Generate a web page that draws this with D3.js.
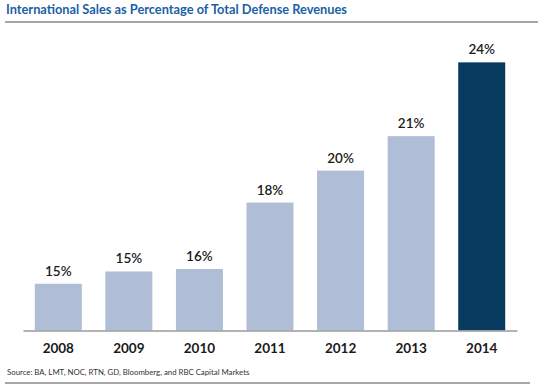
<!DOCTYPE html>
<html>
<head>
<meta charset="utf-8">
<script src="https://cdn.jsdelivr.net/npm/d3@7"></script>
<style>
  body { margin: 0; background: #fff; }
  svg { display: block; }
</style>
</head>
<body>
<svg id="chart" width="538" height="389"></svg>
<script>
// data
var years = ["2008", "2009", "2010", "2011", "2012", "2013", "2014"];
var shares = [14.9, 15.4, 15.5, 18.2, 19.5, 20.9, 23.9];
var labels = ["15%", "15%", "16%", "18%", "20%", "21%", "24%"];

var svg = d3.select("#chart");
var font = "Lato, 'Open Sans', sans-serif";

var baseY = 330.5;
var x = d3.scaleBand()
    .domain(years)
    .range([23, 517])
    .paddingInner(0.334)
    .paddingOuter(0.167);

var y = d3.scaleLinear()
    .domain([13, 25])
    .range([baseY, baseY - 12 * 24.6]);

// title + rule
svg.append("text")
    .attr("x", 6)
    .attr("y", 14)
    .attr("font-family", font)
    .attr("font-weight", "bold")
    .attr("font-size", 12.8)
    .attr("fill", "#1b5fa6")
    .text("International Sales as Percentage of Total Defense Revenues");

svg.append("line")
    .attr("x1", 5).attr("x2", 538)
    .attr("y1", 22).attr("y2", 22)
    .attr("stroke", "#8a8a8a")
    .attr("stroke-width", 1.5);

// bars
svg.selectAll("rect.bar")
    .data(years)
    .enter().append("rect")
    .attr("class", "bar")
    .attr("x", function(d) { return x(d); })
    .attr("width", x.bandwidth())
    .attr("y", function(d, i) { return y(shares[i]); })
    .attr("height", function(d, i) { return baseY - y(shares[i]); })
    .attr("fill", function(d, i) { return i == years.length - 1 ? "#073b60" : "#afbdd6"; });

// value labels
svg.selectAll("text.val")
    .data(years)
    .enter().append("text")
    .attr("class", "val")
    .attr("x", function(d) { return x(d) + x.bandwidth() / 2; })
    .attr("y", function(d, i) { return y(shares[i]) - 8; })
    .attr("text-anchor", "middle")
    .attr("font-family", font)
    .attr("font-size", 13.5)
    .attr("font-weight", 600)
    .attr("fill", "#1a1a1a")
    .text(function(d, i) { return labels[i]; });

// x axis
var axis = svg.append("g")
    .attr("transform", "translate(0," + baseY + ")")
    .call(d3.axisBottom(x).tickSize(0).tickPadding(13));
axis.select(".domain").attr("stroke", "#9a9a9a").attr("stroke-width", 1.5);
axis.selectAll("text")
    .attr("font-family", font)
    .attr("font-size", 13.5)
    .attr("font-weight", "bold")
    .attr("fill", "#1a1a1a");

// source + bottom rule
svg.append("text")
    .attr("x", 7)
    .attr("y", 375)
    .attr("font-family", font)
    .attr("font-size", 7.8)
    .attr("fill", "#333")
    .text("Source: BA, LMT, NOC, RTN, GD, Bloomberg, and RBC Capital Markets");

svg.append("line")
    .attr("x1", 5).attr("x2", 530)
    .attr("y1", 383).attr("y2", 383)
    .attr("stroke", "#8a8a8a")
    .attr("stroke-width", 1.5);
</script>
</body>
</html>
